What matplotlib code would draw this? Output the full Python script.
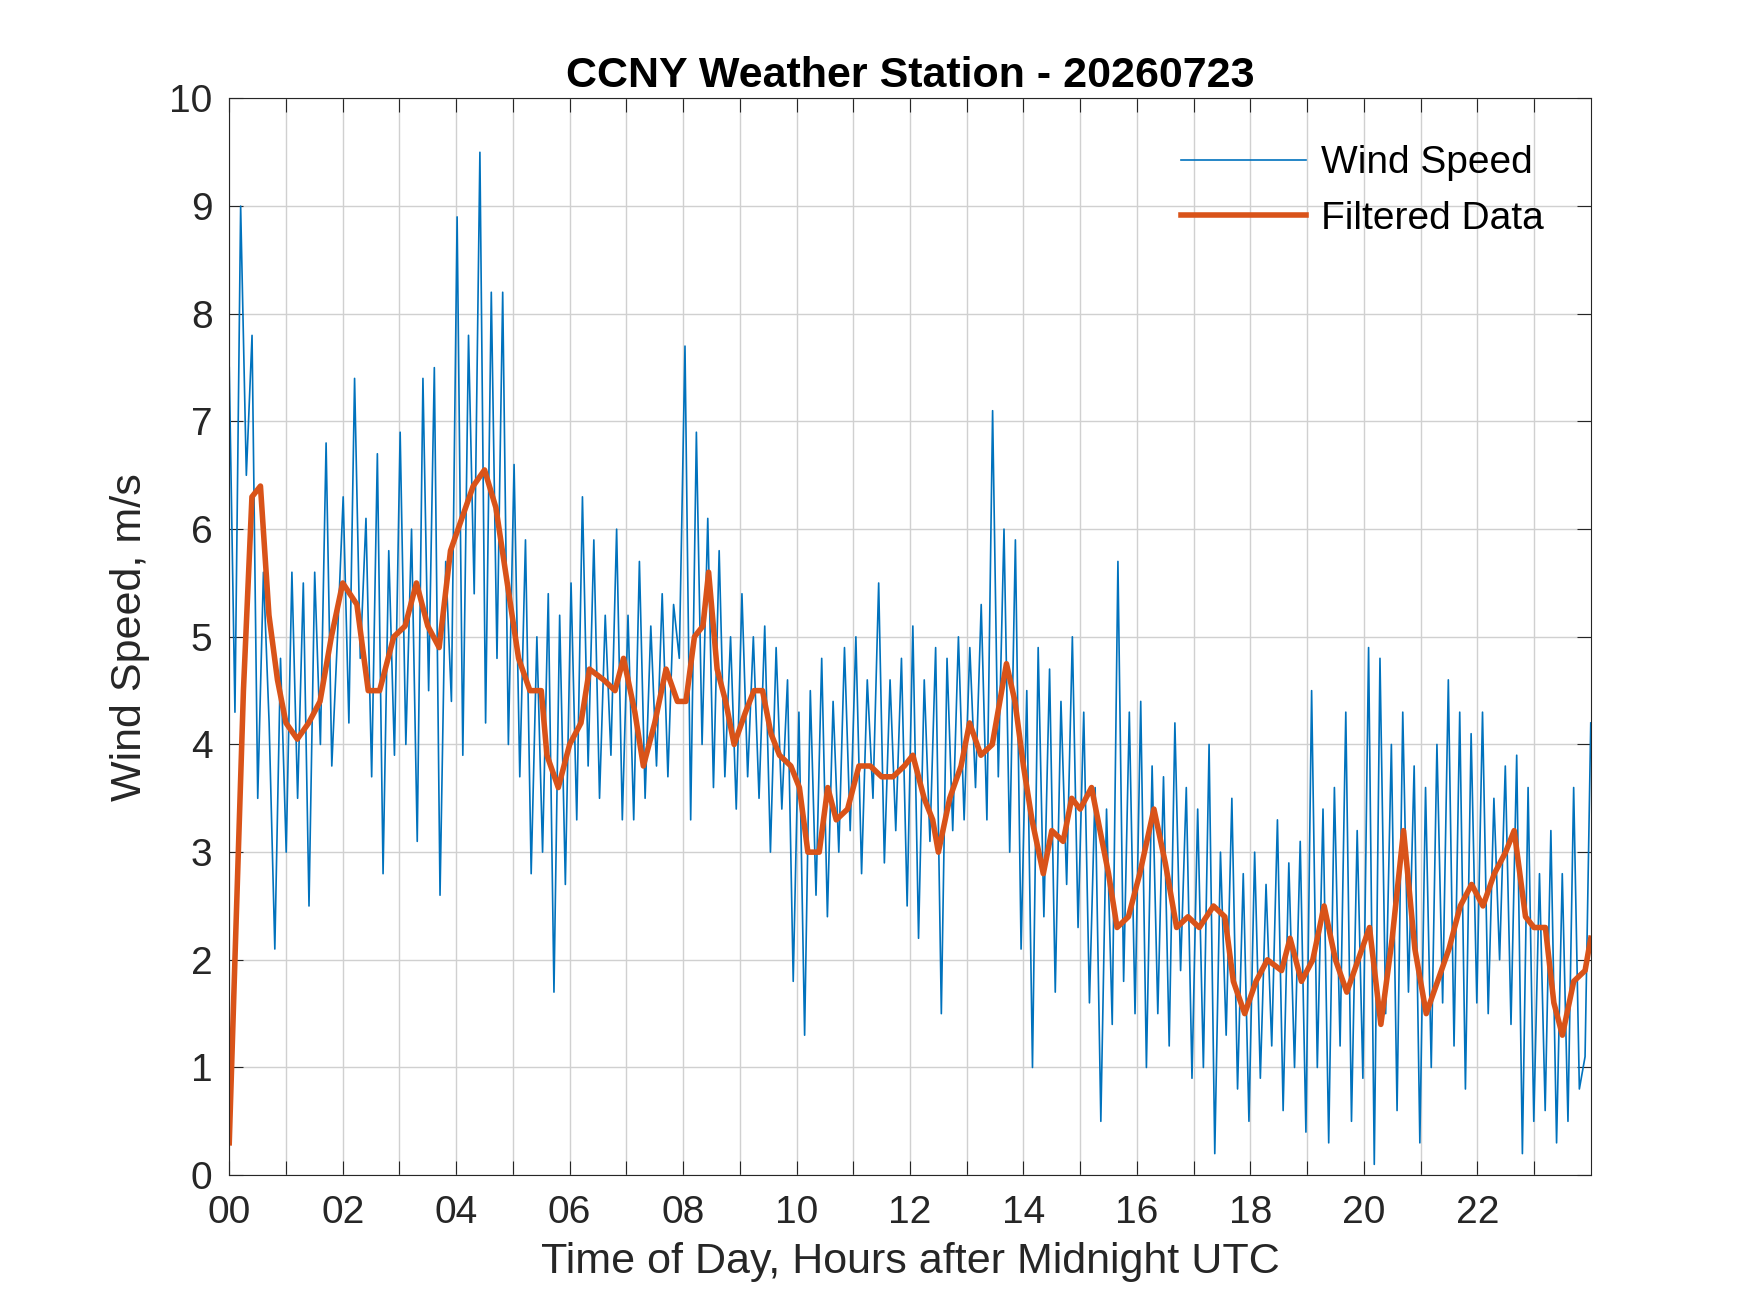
import numpy as np
import matplotlib
matplotlib.use("Agg")
import matplotlib.pyplot as plt

plt.rcParams['font.family'] = ['Liberation Sans', 'DejaVu Sans']

wind = [
7.5,4.3,9.0,6.5,7.8,3.5,5.6,4.2,2.1,4.8,
3.0,5.6,3.5,5.5,2.5,5.6,4.0,6.8,3.8,5.0,
6.3,4.2,7.4,4.8,6.1,3.7,6.7,2.8,5.8,3.9,
6.9,4.0,6.0,3.1,7.4,4.5,7.5,2.6,5.7,4.4,
8.9,3.9,7.8,5.4,9.5,4.2,8.2,4.8,8.2,4.0,
6.6,3.7,5.9,2.8,5.0,3.0,5.4,1.7,5.2,2.7,
5.5,3.3,6.3,3.8,5.9,3.5,5.2,3.9,6.0,3.3,
5.2,3.3,5.7,3.5,5.1,3.8,5.4,3.7,5.3,4.8,
7.7,3.3,6.9,4.0,6.1,3.6,5.8,3.7,5.0,3.4,
5.4,3.7,5.0,3.5,5.1,3.0,4.9,3.4,4.6,1.8,
4.3,1.3,4.5,2.6,4.8,2.4,4.4,3.0,4.9,3.2,
5.0,2.8,4.6,3.5,5.5,2.9,4.6,3.2,4.8,2.5,
5.1,2.2,4.6,3.1,4.9,1.5,4.8,3.2,5.0,3.3,
4.9,3.6,5.3,3.3,7.1,3.7,6.0,3.0,5.9,2.1,
4.5,1.0,4.9,2.4,4.7,1.7,4.4,2.7,5.0,2.3,
4.3,1.6,3.6,0.5,3.4,1.4,5.7,1.8,4.3,1.5,
4.4,1.0,3.8,1.5,3.7,1.2,4.2,1.9,3.6,0.9,
3.4,1.0,4.0,0.2,3.0,1.3,3.5,0.8,2.8,0.5,
3.0,0.9,2.7,1.2,3.3,0.6,2.9,1.0,3.1,0.4,
4.5,1.0,3.4,0.3,3.6,1.2,4.3,0.5,3.2,0.9,
4.9,0.1,4.8,1.5,4.0,0.6,4.3,1.7,3.8,0.3,
3.6,1.0,4.0,1.6,4.6,1.2,4.3,0.8,4.1,1.6,
4.3,1.5,3.5,2.0,3.8,1.4,3.9,0.2,3.6,0.5,
2.8,0.6,3.2,0.3,2.8,0.5,3.6,0.8,1.1,4.2]
wind_t = np.linspace(0, 24, len(wind))

filt_t = [0,0.1,0.25,0.4,0.55,0.7,0.85,1.0,1.2,1.4,1.6,1.8,2.0,2.25,2.45,2.65,2.9,3.1,3.3,3.5,3.7,3.9,4.1,4.3,4.5,4.7,4.9,5.1,5.3,5.5,5.6,5.8,6.0,6.2,6.35,6.6,6.8,6.95,7.15,7.3,7.5,7.7,7.9,8.05,8.2,8.35,8.45,8.6,8.75,8.9,9.1,9.25,9.4,9.55,9.7,9.9,10.05,10.2,10.4,10.55,10.7,10.9,11.1,11.3,11.5,11.7,11.9,12.05,12.25,12.4,12.5,12.7,12.9,13.05,13.25,13.45,13.7,13.85,14.0,14.15,14.35,14.5,14.7,14.85,15.0,15.2,15.35,15.5,15.65,15.85,16.05,16.3,16.5,16.7,16.9,17.1,17.35,17.55,17.7,17.9,18.1,18.3,18.55,18.7,18.9,19.1,19.3,19.5,19.7,19.9,20.1,20.3,20.5,20.7,20.9,21.1,21.3,21.5,21.7,21.9,22.1,22.3,22.5,22.65,22.85,23.0,23.2,23.35,23.5,23.7,23.9,24.0]
filt_v = [0.3,2,4.5,6.3,6.4,5.2,4.6,4.2,4.05,4.2,4.4,5.0,5.5,5.3,4.5,4.5,5.0,5.1,5.5,5.1,4.9,5.8,6.1,6.4,6.55,6.2,5.5,4.8,4.5,4.5,3.9,3.6,4.0,4.2,4.7,4.6,4.5,4.8,4.3,3.8,4.2,4.7,4.4,4.4,5.0,5.1,5.6,4.7,4.4,4.0,4.3,4.5,4.5,4.1,3.9,3.8,3.6,3.0,3.0,3.6,3.3,3.4,3.8,3.8,3.7,3.7,3.8,3.9,3.5,3.3,3.0,3.5,3.8,4.2,3.9,4.0,4.75,4.4,3.8,3.3,2.8,3.2,3.1,3.5,3.4,3.6,3.2,2.8,2.3,2.4,2.8,3.4,2.9,2.3,2.4,2.3,2.5,2.4,1.8,1.5,1.8,2.0,1.9,2.2,1.8,2.0,2.5,2.0,1.7,2.0,2.3,1.4,2.2,3.2,2.1,1.5,1.8,2.1,2.5,2.7,2.5,2.8,3.0,3.2,2.4,2.3,2.3,1.6,1.3,1.8,1.9,2.2]

hours = list(range(24))
xlabels = [('%02d' % h) if h % 2 == 0 else '' for h in hours]

fig = plt.figure(figsize=(17.5, 13.13), dpi=100)
ax = fig.add_axes([0.131, 0.105, 0.778, 0.82])
ax.plot(wind_t, wind, color='#0072BD', lw=1.2, label='Wind Speed')
ax.plot(filt_t, filt_v, color='#D95319', lw=4, label='Filtered Data')
ax.set_xlim(0, 24)
ax.set_ylim(0, 10)
ax.set_xticks(hours)
ax.set_xticklabels(xlabels)
ax.set_yticks(np.arange(0, 11, 1))
ax.grid(True, color='#d0d0d0', lw=1)
ax.tick_params(direction='in', labelsize=28, length=10, top=True, right=True, colors='#262626')
ax.tick_params(axis='x', pad=14)
ax.tick_params(axis='y', pad=12)
for s in ax.spines.values():
    s.set_color('#262626')
ax.set_xlabel('Time of Day, Hours after Midnight UTC', fontsize=31, color='#262626', labelpad=8)
ax.set_ylabel('Wind Speed, m/s', fontsize=31, color='#262626', labelpad=14)
ax.set_title('CCNY Weather Station - 20260723', fontsize=31, fontweight='bold', pad=8)
ax.legend(loc='upper right', frameon=False, fontsize=28, handlelength=3.2,
          handletextpad=0.4, borderaxespad=0.8)
fig.savefig('out.png', dpi=100)
